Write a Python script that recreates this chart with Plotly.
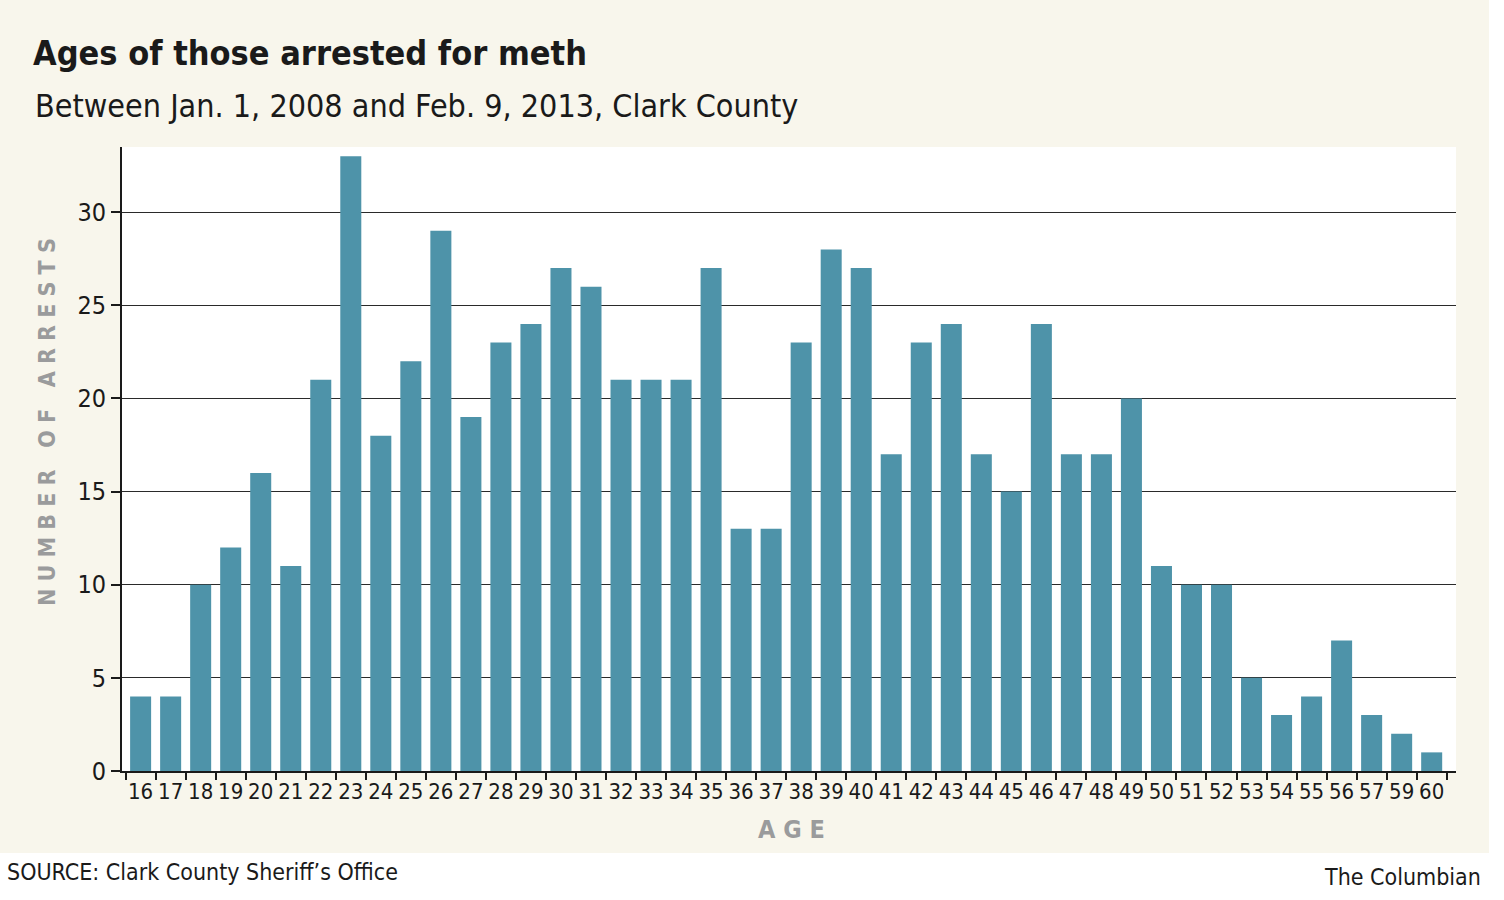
import plotly.graph_objects as go

ages = ["16", "17", "18", "19", "20", "21", "22", "23", "24", "25", "26", "27", "28", "29",
        "30", "31", "32", "33", "34", "35", "36", "37", "38", "39", "40", "41", "42", "43",
        "44", "45", "46", "47", "48", "49", "50", "51", "52", "53", "54", "55", "56", "57",
        "59", "60"]
arrests = [4, 4, 10, 12, 16, 11, 21, 33, 18, 22, 29, 19, 23, 24,
           27, 26, 21, 21, 21, 27, 13, 13, 23, 28, 27, 17, 23, 24,
           17, 15, 24, 17, 17, 20, 11, 10, 10, 5, 3, 4, 7, 3,
           2, 1]
y_ticks = [0, 5, 10, 15, 20, 25, 30]

title_text = "Ages of those arrested for meth"
subtitle_text = "Between Jan. 1, 2008 and Feb. 9, 2013, Clark County"
source_text = "SOURCE: Clark County Sheriff\u2019s Office"
credit_text = "The Columbian"

W, H = 1504, 900
L, R, T, B = 122, 48, 147, 129
PW, PH = W - L - R, H - T - B

def px(x):
    return (x - L) / PW

def py(y):
    return (H - B - y) / PH

FONT = "DejaVu Sans Condensed, sans-serif"
CREAM = "#f8f6ec"
BAR = "#4e93a9"

fig = go.Figure(go.Bar(x=ages, y=arrests, marker=dict(color=BAR, line=dict(width=0)),
                       hoverinfo="x+y"))

fig.update_layout(
    width=W, height=H,
    margin=dict(l=L, r=R, t=T, b=B),
    paper_bgcolor=CREAM,
    plot_bgcolor="white",
    bargap=0.3,
    showlegend=False,
    font=dict(family=FONT, color="#1a1a1a"),
)

fig.update_xaxes(
    type="category",
    range=[-0.62, 43.81],
    tickmode="linear", tick0=0, dtick=1,
    tickson="boundaries",
    ticks="outside", ticklen=7, tickwidth=1.5, tickcolor="#1a1a1a",
    showline=True, linecolor="#1a1a1a", linewidth=2,
    showgrid=False,
    tickfont=dict(family=FONT, size=22, color="#1a1a1a"),
    tickangle=0,
)
fig.update_yaxes(
    range=[0, 33.5],
    tickvals=y_ticks,
    ticks="outside", ticklen=9, tickwidth=1.5, tickcolor="#1a1a1a",
    showline=True, linecolor="#1a1a1a", linewidth=2,
    showgrid=True, gridcolor="#2a2a2a", gridwidth=1.4,
    zeroline=False,
    tickfont=dict(family=FONT, size=25, color="#1a1a1a"),
)

shapes = [
    dict(type="rect", xref="paper", yref="paper", x0=px(-5), x1=px(W + 5), y0=py(H + 5), y1=py(853),
         fillcolor="white", line=dict(width=0), layer="below"),
    dict(type="rect", xref="paper", yref="paper", x0=px(1489), x1=px(W + 5), y0=py(H + 5), y1=py(-5),
         fillcolor="white", line=dict(width=0), layer="below"),
]
fig.update_layout(shapes=shapes)

annotations = [
    dict(text="<b>" + title_text + "</b>", x=px(31), y=py(53), xanchor="left", yanchor="middle",
         font=dict(family=FONT, size=34, color="#1a1a1a")),
    dict(text=subtitle_text, x=px(33), y=py(106), xanchor="left", yanchor="middle",
         font=dict(family=FONT, size=32, color="#1a1a1a")),
    dict(text="<b>" + " ".join("NUMBER OF ARRESTS") + "</b>", x=px(47), y=py(422), xanchor="center",
         yanchor="middle", textangle=-90, font=dict(family=FONT, size=23, color="#9a9b9c")),
    dict(text="<b>" + " ".join("AGE") + "</b>", x=px(791), y=py(829), xanchor="center", yanchor="middle",
         font=dict(family=FONT, size=25, color="#9a9b9c")),
    dict(text=source_text, x=px(5), y=py(872), xanchor="left", yanchor="middle",
         font=dict(family=FONT, size=23, color="#1a1a1a")),
    dict(text=credit_text, x=px(1483), y=py(877), xanchor="right", yanchor="middle",
         font=dict(family=FONT, size=23, color="#1a1a1a")),
]
for a in annotations:
    a.update(xref="paper", yref="paper", showarrow=False)
fig.update_layout(annotations=annotations)

fig.write_html("out.html", config={"displayModeBar": False},
               post_script="document.body.style.margin='0';")
